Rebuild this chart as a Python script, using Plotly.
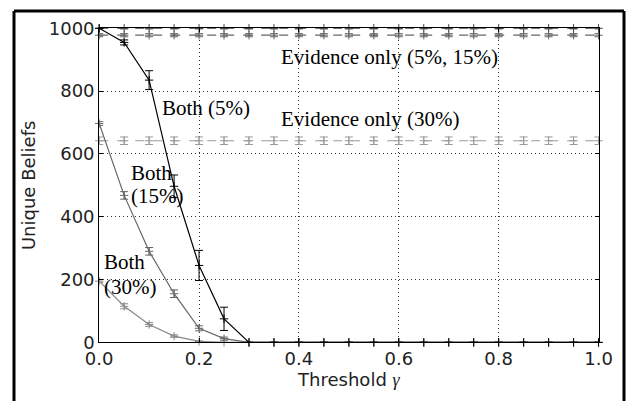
import plotly.graph_objects as go

thresholds = [round(0.05 * i, 2) for i in range(21)]

both_5 = [1000, 955, 835, 497, 245, 75] + [0] * 15
both_5_err = [0, 8, 30, 36, 48, 37] + [0] * 15
both_15 = [697, 468, 290, 155, 45, 12] + [0] * 15
both_15_err = [6, 12, 12, 12, 8, 5] + [0] * 15
both_30 = [195, 115, 57, 20, 3] + [0] * 16
both_30_err = [5, 8, 6, 4, 2] + [0] * 16
evid_5 = [1000] * 21
evid_5_err = [2] * 21
evid_15 = [978] * 21
evid_15_err = [5] * 21
evid_30 = [642] * 21
evid_30_err = [12] * 21

x_ticks = [0.0, 0.2, 0.4, 0.6, 0.8, 1.0]
x_tick_text = ["0.0", "0.2", "0.4", "0.6", "0.8", "1.0"]
y_ticks = [0, 200, 400, 600, 800, 1000]

fig = go.Figure()

def add(y, err, color, dash):
    fig.add_trace(go.Scatter(
        x=thresholds, y=y, mode="lines+markers",
        line=dict(color=color, width=1.2, dash=dash),
        marker=dict(symbol="cross-thin", size=6, line=dict(color=color, width=1), color=color),
        error_y=dict(type="data", array=err, color=color, thickness=1, width=4, visible=True),
        cliponaxis=False, showlegend=False,
    ))

add(evid_30, evid_30_err, "#9a9a9a", "dash")
add(evid_15, evid_15_err, "#666666", "dash")
add(evid_5, evid_5_err, "#444444", "dash")
add(both_30, both_30_err, "#8a8a8a", "solid")
add(both_15, both_15_err, "#666666", "solid")
add(both_5, both_5_err, "#000000", "solid")

serif = "Liberation Serif, Times New Roman, serif"
ann = [
    ("Evidence only (5%, 15%)", 0.36, 907),
    ("Evidence only (30%)", 0.36, 712),
    ("Both (5%)", 0.122, 745),
    ("Both", 0.06, 540),
    ("(15%)", 0.06, 466),
    ("Both", 0.005, 256),
    ("(30%)", 0.005, 176),
]
for text, x, y in ann:
    fig.add_annotation(x=x, y=y, text=text, showarrow=False, xanchor="left", yanchor="middle",
                       font=dict(family=serif, size=21, color="black"))

# outer frame along the paper edges: left, top and right (open at the bottom)
for (a, b, c, d) in [(0, 0, 0, 1), (0, 1, 1, 1), (1, 1, 1, 0)]:
    fig.add_shape(type="line", xref="paper", yref="paper", x0=a, y0=b, x1=c, y1=d,
                  line=dict(color="black", width=3), layer="above")

axis_common = dict(showline=True, linecolor="black", linewidth=1, mirror="ticks", ticks="inside",
                   ticklen=4, tickcolor="black", showgrid=True, gridcolor="#333333", gridwidth=1,
                   griddash="1px,3px", zeroline=False,
                   tickfont=dict(family="DejaVu Sans", size=18, color="#222"))

fig.update_xaxes(range=[0, 1], tickvals=x_ticks, ticktext=x_tick_text, domain=[0.13965, 0.95826],
                 title=dict(text="Threshold <span style='font-family:Liberation Serif'><i>γ</i></span>",
                            font=dict(family="DejaVu Sans", size=18, color="#222"), standoff=4),
                 **axis_common)
fig.update_yaxes(range=[0, 1000], tickvals=y_ticks, domain=[0.15025, 0.95567],
                 title=dict(text="Unique Beliefs", font=dict(family="DejaVu Sans", size=18, color="#222"),
                            standoff=8),
                 **axis_common)

fig.update_layout(width=638, height=411, margin=dict(l=13, r=2, t=5, b=0),
                  plot_bgcolor="white", paper_bgcolor="white")

fig.write_html("out.html")
